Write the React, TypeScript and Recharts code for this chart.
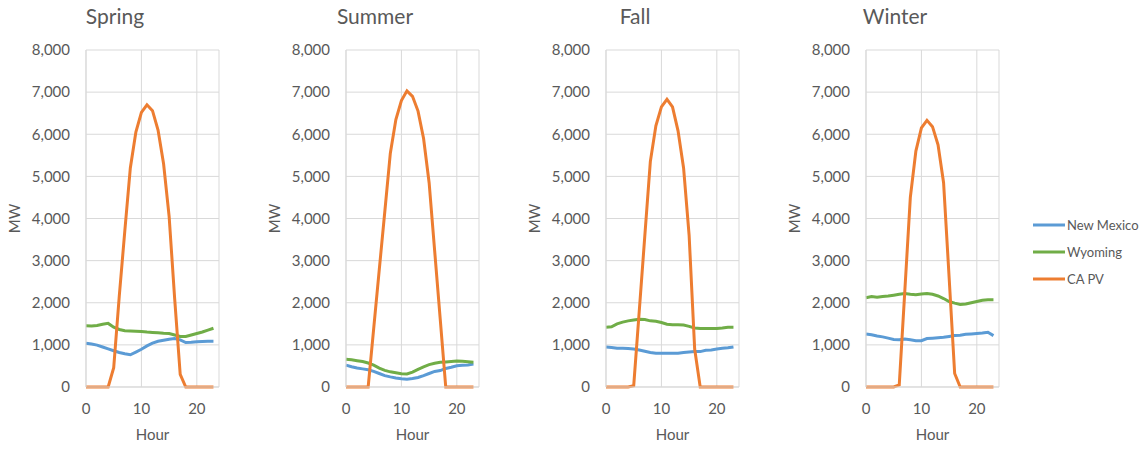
import { LineChart, Line, XAxis, YAxis, CartesianGrid } from "recharts";

const hours = [0, 1, 2, 3, 4, 5, 6, 7, 8, 9, 10, 11, 12, 13, 14, 15, 16, 17, 18, 19, 20, 21, 22, 23];
const xTicks = [0, 10, 20];
const yTicks = [0, 1000, 2000, 3000, 4000, 5000, 6000, 7000, 8000];

const springNewMexico = [1040, 1020, 995, 950, 905, 860, 820, 790, 765, 830, 895, 975, 1040, 1085, 1110, 1135, 1150, 1120, 1055, 1060, 1075, 1080, 1085, 1085];
const springWyoming = [1455, 1450, 1460, 1490, 1510, 1420, 1365, 1335, 1330, 1325, 1320, 1305, 1295, 1285, 1275, 1268, 1235, 1200, 1200, 1235, 1270, 1305, 1350, 1395];
const springPV = [0, 0, 0, 0, 0, 460, 2150, 3700, 5200, 6050, 6520, 6700, 6560, 6100, 5300, 4050, 2100, 300, 0, 0, 0, 0, 0, 0];

const summerNewMexico = [520, 480, 450, 430, 410, 370, 320, 270, 240, 215, 195, 185, 200, 225, 270, 320, 370, 390, 440, 470, 505, 515, 525, 545];
const summerWyoming = [660, 645, 625, 605, 570, 520, 450, 395, 360, 340, 315, 310, 355, 420, 480, 530, 565, 585, 595, 605, 615, 610, 600, 590];
const summerPV = [0, 0, 0, 0, 0, 1390, 2780, 4160, 5550, 6350, 6800, 7030, 6900, 6550, 5900, 4850, 3230, 1620, 0, 0, 0, 0, 0, 0];

const fallNewMexico = [950, 940, 920, 920, 915, 900, 880, 850, 820, 800, 800, 800, 800, 800, 820, 830, 840, 840, 870, 880, 900, 920, 930, 950];
const fallWyoming = [1420, 1430, 1500, 1540, 1570, 1590, 1610, 1600, 1570, 1560, 1530, 1490, 1480, 1480, 1470, 1440, 1400, 1390, 1390, 1390, 1390, 1400, 1420, 1420];
const fallPV = [0, 0, 0, 0, 0, 30, 1800, 3580, 5350, 6200, 6650, 6830, 6650, 6080, 5200, 3600, 900, 0, 0, 0, 0, 0, 0, 0];

const winterNewMexico = [1260, 1240, 1210, 1190, 1160, 1130, 1120, 1140, 1120, 1100, 1100, 1150, 1160, 1170, 1180, 1200, 1220, 1230, 1250, 1260, 1270, 1280, 1300, 1220];
const winterWyoming = [2120, 2150, 2130, 2150, 2160, 2180, 2200, 2220, 2200, 2190, 2210, 2220, 2200, 2160, 2100, 2030, 1990, 1960, 1970, 2000, 2030, 2060, 2070, 2070];
const winterPV = [0, 0, 0, 0, 0, 0, 50, 2270, 4500, 5600, 6150, 6330, 6180, 5750, 4850, 2600, 320, 0, 0, 0, 0, 0, 0, 0];

const series = [
  { key: "nm", name: "New Mexico", color: "#5B9BD5" },
  { key: "wy", name: "Wyoming", color: "#70AD47" },
  { key: "pv", name: "CA PV", color: "#ED7D31" },
];

const seasons = [
  { title: "Spring", nm: springNewMexico, wy: springWyoming, pv: springPV },
  { title: "Summer", nm: summerNewMexico, wy: summerWyoming, pv: summerPV },
  { title: "Fall", nm: fallNewMexico, wy: fallWyoming, pv: fallPV },
  { title: "Winter", nm: winterNewMexico, wy: winterWyoming, pv: winterPV },
];

const FONT = "Lato, 'Open Sans', sans-serif";
const TEXT = "#595959";
const GRID = "#d9d9d9";

function Panel({ season, left, width }: { season: any; left: number; width: number }) {
  const data = hours.map((h, i) => ({ hour: h, nm: season.nm[i], wy: season.wy[i], pv: season.pv[i] }));
  return (
    <div style={{ position: "absolute", left, top: 0, width, height: 462 }}>
      <div
        style={{
          position: "absolute",
          left: 0,
          width: 230,
          top: 3,
          textAlign: "center",
          fontSize: 21,
          color: TEXT,
          fontFamily: FONT,
        }}
      >
        {season.title}
      </div>
      <LineChart
        width={width}
        height={462}
        data={data}
        margin={{ top: 50, right: width - 219, bottom: 0, left: 0 }}
        style={{ fontFamily: FONT }}
      >
        <CartesianGrid stroke={GRID} strokeWidth={1} />
        <XAxis
          dataKey="hour"
          type="number"
          domain={[0, 24]}
          ticks={xTicks}
          height={75}
          tickLine={false}
          tickMargin={10}
          axisLine={{ stroke: GRID }}
          tick={{ fill: TEXT, fontSize: 15 }}
          label={{
            content: (p: any) => (
              <text
                x={p.viewBox.x + p.viewBox.width / 2}
                y={440}
                textAnchor="middle"
                fill={TEXT}
                fontSize={15}
              >
                Hour
              </text>
            ),
          }}
        />
        <YAxis
          type="number"
          domain={[0, 8000]}
          ticks={yTicks}
          width={86}
          tickLine={false}
          tickMargin={10}
          axisLine={{ stroke: GRID }}
          tick={{ fill: TEXT, fontSize: 15 }}
          tickFormatter={(v: number) => v.toLocaleString("en-US")}
          label={{
            content: (p: any) => {
              const cy = p.viewBox.y + p.viewBox.height / 2;
              return (
                <text
                  x={20}
                  y={cy}
                  transform={`rotate(-90 20 ${cy})`}
                  textAnchor="middle"
                  fill={TEXT}
                  fontSize={15}
                >
                  MW
                </text>
              );
            },
          }}
        />
        {series.map((s) => (
          <Line
            key={s.key}
            dataKey={s.key}
            name={s.name}
            type="linear"
            stroke={s.color}
            strokeWidth={3}
            dot={false}
            isAnimationActive={false}
          />
        ))}
      </LineChart>
    </div>
  );
}

export default function App() {
  return (
    <div
      style={{
        position: "absolute",
        left: 0,
        top: 0,
        width: 1143,
        height: 462,
        background: "#fff",
        overflow: "hidden",
      }}
    >
      {seasons.map((s, i) => (
        <Panel key={s.title} season={s} left={i * 260} width={i === 3 ? 363 : 260} />
      ))}
      <div style={{ position: "absolute", left: 1033, top: 211, fontFamily: FONT }}>
        {series.map((s) => (
          <div key={s.key} style={{ display: "flex", alignItems: "center", height: 27 }}>
            <svg width={32} height={4} style={{ display: "block" }}>
              <line x1={0} y1={2} x2={32} y2={2} stroke={s.color} strokeWidth={3} />
            </svg>
            <span style={{ marginLeft: 2, fontSize: 13, color: TEXT }}>{s.name}</span>
          </div>
        ))}
      </div>
    </div>
  );
}
